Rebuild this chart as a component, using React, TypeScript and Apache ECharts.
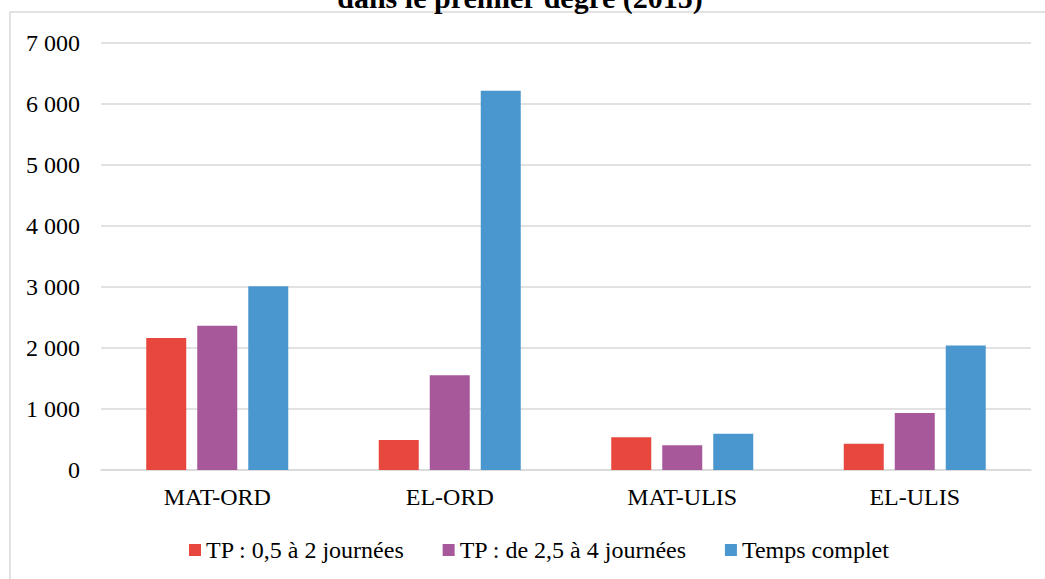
import React, { useEffect, useRef } from "react";
import * as echarts from "echarts";

const categories = ["MAT-ORD", "EL-ORD", "MAT-ULIS", "EL-ULIS"];
const seriesNames = ["TP : 0,5 à 2 journées", "TP : de 2,5 à 4 journées", "Temps complet"];
const tp05a2 = [2160, 490, 535, 430];
const tp25a4 = [2360, 1550, 405, 935];
const tempsComplet = [3010, 6210, 595, 2040];
const colors = ["#E8473E", "#A6589A", "#4A97D0"];
const titleText = "dans le premier degré (2015)";

const FONT = "Liberation Serif";

export default function App() {
  const ref = useRef<HTMLDivElement>(null);
  useEffect(() => {
    document.body.style.margin = "0";
    const chart = echarts.init(ref.current!, undefined, { renderer: "svg" });
    const values = [tp05a2, tp25a4, tempsComplet];
    chart.setOption({
      animation: false,
      backgroundColor: "#ffffff",
      textStyle: { fontFamily: FONT },
      graphic: [
        {
          type: "rect",
          shape: { x: 10, y: 12, width: 1100, height: 700 },
          style: { fill: "none", stroke: "#d9d9d9", lineWidth: 1.5 },
          silent: true,
          z: -1,
        },
        {
          type: "text",
          x: 520,
          y: 12,
          style: {
            text: titleText,
            fontFamily: FONT,
            fontWeight: "bold",
            fontSize: 30,
            fill: "#000",
            align: "center",
            verticalAlign: "bottom",
          },
        },
      ],
      grid: { left: 101, right: 14, top: 42.5, bottom: 109, containLabel: false },
      legend: {
        left: 184,
        top: 533,
        itemWidth: 12,
        itemHeight: 12,
        itemGap: 38,
        icon: "rect",
        textStyle: { fontFamily: FONT, fontSize: 24, color: "#000" },
        data: seriesNames,
      },
      xAxis: {
        type: "category",
        data: categories,
        axisLine: { lineStyle: { color: "#d9d9d9", width: 1.5 } },
        axisTick: { show: false },
        axisLabel: { fontFamily: FONT, fontSize: 24, color: "#000", margin: 15 },
      },
      yAxis: {
        type: "value",
        min: 0,
        max: 7000,
        interval: 1000,
        axisLine: { show: false },
        axisTick: { show: false },
        splitLine: { lineStyle: { color: "#d9d9d9", width: 1.5 } },
        axisLabel: {
          fontFamily: FONT,
          fontSize: 24,
          color: "#000",
          margin: 21,
          formatter: (v: number) => (v >= 1000 ? `${Math.floor(v / 1000)} ${String(v % 1000).padStart(3, "0")}` : String(v)),
        },
      },
      series: seriesNames.map((name, i) => ({
        name,
        type: "bar",
        data: values[i],
        barWidth: 40,
        barGap: "27.5%",
        itemStyle: { color: colors[i] },
      })),
    });
    return () => chart.dispose();
  }, []);
  return <div ref={ref} style={{ width: 1045, height: 579 }} />;
}
